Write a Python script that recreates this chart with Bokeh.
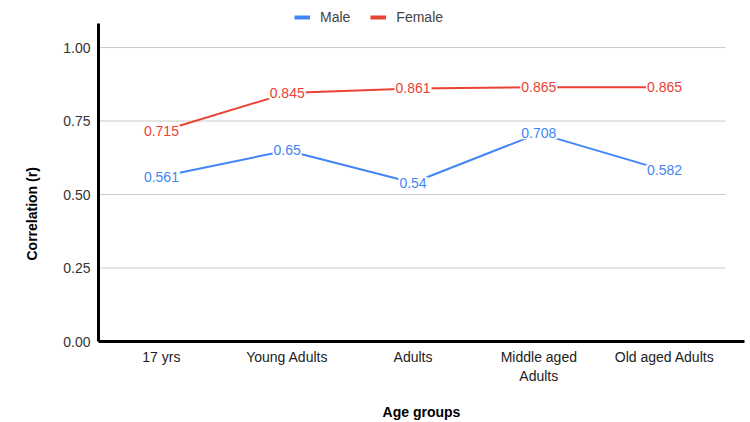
import math
from bokeh.plotting import figure
from bokeh.models import Range1d, FixedTicker, Legend, LegendItem, Title, ColumnDataSource
from bokeh.core.properties import value
from bokeh.embed import file_html
from bokeh.resources import INLINE

categories = ["17 yrs", "Young Adults", "Adults", "Middle aged\nAdults", "Old aged Adults"]
male = [0.561, 0.65, 0.54, 0.708, 0.582]
female = [0.715, 0.845, 0.861, 0.865, 0.865]
y_ticks = [0.0, 0.25, 0.5, 0.75, 1.0]
y_tick_labels = ["0.00", "0.25", "0.50", "0.75", "1.00"]

BLUE = "#4285F4"
RED = "#EA4335"
FONT = "Liberation Sans"

xs = list(range(len(categories)))

# frame spans the full top of the canvas; the y axis line is bounded to 0..1.0816
p = figure(width=750, height=422, output_backend="svg", toolbar_location=None,
           x_range=Range1d(-0.5, 4.635), y_range=Range1d(0, 1.16),
           min_border_left=97, min_border_right=6, min_border_top=0, min_border_bottom=81)
p.outline_line_color = None
p.xgrid.visible = False
p.ygrid.visible = False

# gridlines
grid_y = [t for t in y_ticks if t > 0]
p.segment(x0=[-0.5] * len(grid_y), x1=[4.484] * len(grid_y), y0=grid_y, y1=grid_y,
          line_color="#cccccc", line_width=1)

src = ColumnDataSource(dict(x=xs, male=male, female=female,
                            male_lbl=[f"{v:g}" for v in male],
                            female_lbl=[f"{v:g}" for v in female]))

p.line("x", "male", source=src, line_color=BLUE, line_width=2)
p.line("x", "female", source=src, line_color=RED, line_width=2)

for col, lbl, color in [("male", "male_lbl", BLUE), ("female", "female_lbl", RED)]:
    p.text("x", col, text=lbl, source=src, text_color=color, text_font=value(FONT),
           text_font_size="14px", text_align="center", text_baseline="middle",
           background_fill_color="white", padding=1)

# axes
p.xaxis.ticker = FixedTicker(ticks=xs)
p.xaxis.major_label_overrides = {i: c for i, c in enumerate(categories)}
p.xaxis.axis_line_width = 3
p.xaxis.axis_line_color = "black"
p.xaxis.major_tick_line_color = None
p.xaxis.minor_tick_line_color = None
p.xaxis.major_label_text_font = FONT
p.xaxis.major_label_text_font_size = "14px"
p.xaxis.major_label_text_color = "#222222"
p.xaxis.major_label_standoff = 1
p.xaxis.axis_label = "Age groups"
p.xaxis.axis_label_text_font = FONT
p.xaxis.axis_label_text_font_style = "bold"
p.xaxis.axis_label_text_font_size = "14px"
p.xaxis.axis_label_text_color = "black"
p.xaxis.axis_label_standoff = 17

p.yaxis.ticker = FixedTicker(ticks=y_ticks)
p.yaxis.bounds = (0, 1.0816)
p.yaxis.major_label_overrides = {t: l for t, l in zip(y_ticks, y_tick_labels)}
p.yaxis.axis_line_width = 3
p.yaxis.axis_line_color = "black"
p.yaxis.major_tick_line_color = None
p.yaxis.minor_tick_line_color = None
p.yaxis.major_label_text_font = FONT
p.yaxis.major_label_text_font_size = "14px"
p.yaxis.major_label_text_color = "#333333"
p.yaxis.major_label_standoff = 2

ytitle = Title(text="Correlation (r)", align="left", offset=81, standoff=42,
               text_font=FONT, text_font_style="bold", text_font_size="14px",
               text_color="black")
p.add_layout(ytitle, "left")

# legend (swatches drawn 4px thick, as in the reference)
nan = float("nan")
lm = p.line([nan], [nan], line_color=BLUE, line_width=4)
lf = p.line([nan], [nan], line_color=RED, line_width=4)
legend = Legend(items=[LegendItem(label="Male", renderers=[lm]),
                       LegendItem(label="Female", renderers=[lf])],
                orientation="horizontal", location=(196, 316), margin=0, padding=2,
                spacing=20, glyph_width=16, glyph_height=16, label_height=16, label_standoff=10,
                label_text_font=FONT, label_text_font_size="14px", label_text_color="#444444",
                border_line_color=None, background_fill_alpha=0)
p.add_layout(legend, "center")

open("out.html", "w").write(file_html(p, INLINE))
